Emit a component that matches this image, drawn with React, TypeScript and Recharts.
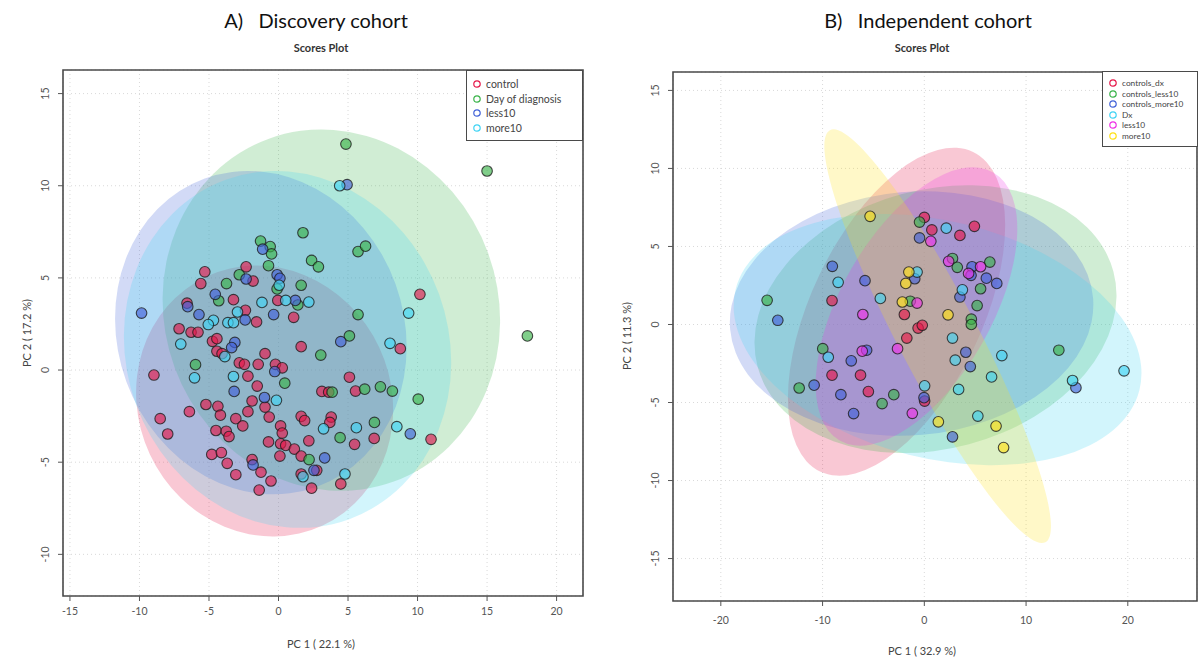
import React from "react";
import { ScatterChart, Scatter, XAxis, YAxis, CartesianGrid, ReferenceArea } from "recharts";

type Pt = [number, number];
// ellipse: centre x, centre y, half width (x units), half height (y units), tilt in degrees
type Ell = [number, number, number, number, number];

const FONT = "Lato, 'Liberation Sans', sans-serif";

// palette used by the scores plots (group order)
const groupColors = ["#e6194b", "#3cb44b", "#4363d8", "#42d4f4", "#f032e6", "#ffe119"];

// ---------------- A) Discovery cohort ----------------
const discGroups = ["control", "Day of diagnosis", "less10", "more10"];

const discControl: Pt[] = [
  [-5.3, 5.33], [-5.59, 4.69], [-2.33, 5.6], [-1.83, 4.83], [-3.24, 3.82], [-6.58, 3.63],
  [-2.38, 3.24], [-1.58, 2.61], [-0.05, 3.78], [1.09, 2.86], [1.63, 1.27], [10.17, 4.11],
  [8.76, 1.16], [-7.15, 2.24], [-6.29, 2.05], [-5.79, 2.05], [-4.75, 1.56], [-4.43, 1.7],
  [-4.43, 1.02], [-4.06, 0.89], [-2.82, 0.39], [-2.45, 0.31], [-2.2, -0.33], [-1.46, 0.31],
  [-0.97, 0.89], [-0.22, 0.31], [0.27, 0.12], [-8.96, -0.27], [-1.53, -0.87], [-1.9, -1.68],
  [-0.97, -2.01], [-0.67, -2.55], [-2.2, -2.26], [-5.22, -1.87], [-4.36, -1.97], [-4.18, -2.45],
  [-6.41, -2.26], [-8.51, -2.64], [-7.97, -3.47], [-4.5, -3.28], [-3.76, -3.32], [-3.56, -3.61],
  [-3.07, -2.64], [-2.57, -3.03], [0.15, -3.03], [0.27, -3.42], [-0.72, -3.9], [0.15, -4.0],
  [0.52, -4.09], [1.63, -2.51], [1.88, -2.74], [2.18, -3.84], [1.14, -4.29], [1.63, -4.67],
  [0.1, -4.67], [1.63, -5.64], [2.38, -6.41], [2.75, -5.44], [-4.8, -4.58], [-4.11, -4.48],
  [-3.69, -5.06], [-3.07, -5.68], [-1.9, -4.86], [-1.26, -5.54], [-1.39, -6.51], [-0.54, -6.02],
  [3.79, -2.55], [3.69, -2.84], [3.12, -1.16], [3.61, -1.2], [5.1, -0.39], [5.54, -1.14],
  [6.88, -3.71], [5.47, -4.03], [4.48, -6.18], [10.97, -3.76],
];

const discDayOfDiagnosis: Pt[] = [
  [4.85, 12.26], [15.0, 10.8], [17.9, 1.85], [-1.29, 7.0], [-0.6, 6.7], [-0.5, 6.3],
  [1.76, 7.45], [2.38, 5.95], [2.87, 5.6], [5.72, 6.43], [6.26, 6.72], [-0.72, 5.66],
  [-2.82, 5.17], [-3.74, 4.69], [-4.3, 3.76], [1.63, 4.6], [-0.1, 4.4], [1.39, 3.53],
  [5.72, 3.01], [5.1, 1.85], [3.04, 0.81], [-5.97, 0.29], [0.45, -0.71], [3.86, -1.2],
  [6.2, -1.04], [7.33, -0.91], [8.19, -1.14], [10.05, -1.58], [6.9, -2.84], [4.43, -3.67],
  [2.2, -4.86],
];

const discLess10: Pt[] = [
  [4.93, 10.06], [-9.85, 3.09], [-1.14, 6.56], [-0.1, 5.17], [0.1, 4.98], [-2.33, 4.94],
  [-4.55, 4.11], [-6.53, 3.44], [-5.72, 3.01], [-2.4, 2.72], [-0.35, 3.01], [1.21, 3.78],
  [-3.14, 1.5], [-3.37, 1.22], [-0.27, -0.08], [-3.19, -1.16], [-1.01, -1.49], [4.48, 1.54],
  [9.48, -3.46], [3.32, -4.77], [-1.83, -5.15], [2.55, -5.44],
];

const discMore10: Pt[] = [
  [4.4, 10.0], [9.36, 3.09], [8.02, 1.45], [-7.03, 1.41], [-6.04, -0.42], [-3.24, -0.35],
  [-1.19, 3.67], [0.52, 3.78], [2.18, 3.69], [0.05, 4.6], [-3.64, 2.57], [-3.24, 2.57],
  [-2.95, 3.15], [-4.68, 2.7], [-5.05, 2.47], [-0.15, -1.64], [5.6, -3.13], [3.24, -3.19],
  [8.51, -3.07], [4.78, -5.64], [1.76, -5.79], [-3.86, 0.73],
];

const discEllipses: Ell[] = [
  [-1.0, -1.68, 9.1, 7.45, -25],
  [3.8, 3.25, 12.0, 9.9, -20],
  [-1.27, 2.03, 10.3, 8.9, -20],
  [0.65, 1.12, 11.6, 9.8, -20],
];

const discXTicks = [-15, -10, -5, 0, 5, 10, 15, 20];
const discYTicks = [-10, -5, 0, 5, 10, 15];

// ---------------- B) Independent cohort ----------------
const indepGroups = ["controls_dx", "controls_less10", "controls_more10", "Dx", "less10", "more10"];

const indepControlsDx: Pt[] = [
  [-9.07, 1.53], [-9.07, -3.25], [-6.27, -3.25], [-5.5, -4.3], [0, 6.86], [0.74, 6.06],
  [3.5, 5.71], [4.92, 6.29], [-1.96, 0.64], [-0.61, -0.23], [-0.2, -0.05], [-1.72, -0.87],
  [0.03, -4.91],
];

const indepControlsLess10: Pt[] = [
  [-15.45, 1.55], [-9.98, -1.55], [-12.3, -4.07], [-4.15, -5.07], [-3.0, -4.5], [-0.47, 6.56],
  [2.77, 4.23], [3.24, 3.66], [6.44, 4.0], [5.53, 2.29], [5.19, 1.21], [4.62, 0.34],
  [4.62, 0.0], [-1.38, 1.49], [13.22, -1.65],
];

const indepControlsMore10: Pt[] = [
  [-14.4, 0.27], [-9.04, 3.73], [-5.83, 2.81], [-7.18, -2.33], [-5.67, -1.65], [-10.83, -3.89],
  [-8.2, -4.5], [-6.95, -5.71], [-0.47, 5.55], [4.69, 3.7], [4.59, 3.15], [6.1, 2.97],
  [7.12, 2.63], [3.5, 1.76], [-0.94, 2.93], [4.08, -1.78], [4.52, -2.7], [-0.03, -4.69],
  [2.77, -7.2], [14.9, -4.05],
];

const indepDx: Pt[] = [
  [-8.47, 2.7], [-4.32, 1.67], [-9.44, -2.1], [2.16, 6.17], [3.74, 2.22], [-0.71, 3.36],
  [2.77, -0.87], [3.04, -2.29], [7.62, -1.99], [6.61, -3.36], [3.37, -4.16], [0.03, -3.93],
  [5.26, -5.87], [14.57, -3.59], [19.63, -2.97],
];

const indepLess10: Pt[] = [
  [-6.04, 0.64], [-6.1, -1.71], [-2.63, -1.55], [-1.18, -5.69], [0.64, 5.33], [2.39, 4.05],
  [5.53, 3.7], [4.35, 3.27], [-0.71, 1.37],
];

const indepMore10: Pt[] = [
  [-5.33, 6.93], [-1.52, 3.36], [-1.82, 2.63], [-2.16, 1.44], [2.33, 0.62], [1.38, -6.24],
  [7.05, -6.51], [7.79, -7.89],
];

const indepEllipses: Ell[] = [
  [-2.73, 0.82, 8.4, 11.35, 25.6],
  [1.1, 0.34, 18.1, 8.3, -15],
  [-1.25, 0.7, 17.9, 7.8, -5],
  [1.3, -0.97, 20.45, 7.6, 14],
  [-0.77, 1.15, 7.4, 9.9, 29.8],
  [1.31, -0.75, 3.9, 14.9, -27.6],
];

const indepXTicks = [-20, -10, 0, 10, 20];
const indepYTicks = [-15, -10, -5, 0, 5, 10, 15];

// ---------------- drawing helpers ----------------
const toRows = (pts: Pt[]) => pts.map(([x, y]) => ({ x, y }));

const pointShape = (color: string) => (p: any) => (
  <circle
    cx={p.cx}
    cy={p.cy}
    r={5.3}
    fill={color}
    fillOpacity={0.65}
    stroke="#1e1e1e"
    strokeOpacity={0.8}
    strokeWidth={1.1}
  />
);

const ellipseShape = (color: string, kx: number, ky: number) => (p: any) => {
  const e = p.payload;
  return (
    <ellipse
      cx={p.cx}
      cy={p.cy}
      rx={e.rx * kx}
      ry={e.ry * ky}
      transform={`rotate(${e.tilt} ${p.cx} ${p.cy})`}
      fill={color}
      fillOpacity={0.24}
      stroke="none"
    />
  );
};

const RotatedTick = (props: any) => {
  const { x, y, payload } = props;
  return (
    <text
      x={x}
      y={y}
      transform={`rotate(-90 ${x} ${y})`}
      textAnchor="middle"
      fill="#555"
      fontSize={10.5}
      fontFamily={FONT}
    >
      {payload.value}
    </text>
  );
};

interface PanelProps {
  left: number;
  width: number;
  height: number;
  margin: { top: number; right: number; bottom: number; left: number };
  yAxisWidth: number;
  xAxisHeight: number;
  xDomain: [number, number];
  yDomain: [number, number];
  xTicks: number[];
  yTicks: number[];
  series: Pt[][];
  ellipses: Ell[];
  xTickMargin: number;
}

function ScoresPanel(props: PanelProps) {
  const { left, width, height, margin, yAxisWidth, xAxisHeight, xDomain, yDomain, xTicks, yTicks, series, ellipses } = props;
  const plotW = width - margin.left - margin.right - yAxisWidth;
  const plotH = height - margin.top - margin.bottom - xAxisHeight;
  const kx = plotW / (xDomain[1] - xDomain[0]);
  const ky = plotH / (yDomain[1] - yDomain[0]);

  return (
    <div style={{ position: "absolute", left, top: 0 }}>
      <ScatterChart width={width} height={height} margin={margin}>
        <CartesianGrid stroke="#d9d9d9" strokeDasharray="1 3" />
        <XAxis
          type="number"
          dataKey="x"
          domain={xDomain}
          ticks={xTicks}
          allowDataOverflow
          height={xAxisHeight}
          axisLine={false}
          tickSize={5}
          tickMargin={props.xTickMargin}
          tickLine={{ stroke: "#555" }}
          tick={{ fill: "#555", fontSize: 10.5, fontFamily: FONT }}
        />
        <YAxis
          type="number"
          dataKey="y"
          domain={yDomain}
          ticks={yTicks}
          allowDataOverflow
          width={yAxisWidth}
          axisLine={false}
          tickSize={5}
          tickMargin={9}
          tickLine={{ stroke: "#555" }}
          tick={(p: any) => <RotatedTick {...p} />}
        />
        {ellipses.map(([cx, cy, rx, ry, tilt], i) => (
          <Scatter
            key={`e${i}`}
            data={[{ x: cx, y: cy, rx, ry, tilt }]}
            shape={ellipseShape(groupColors[i], kx, ky)}
            isAnimationActive={false}
          />
        ))}
        {series.map((pts, i) => (
          <Scatter
            key={`s${i}`}
            data={toRows(pts)}
            shape={pointShape(groupColors[i])}
            isAnimationActive={false}
          />
        ))}
        <ReferenceArea
          x1={xDomain[0]}
          x2={xDomain[1]}
          y1={yDomain[0]}
          y2={yDomain[1]}
          fill="none"
          stroke="#4a4a4a"
          strokeWidth={1.6}
          ifOverflow="visible"
        />
      </ScatterChart>
    </div>
  );
}

function LegendBox({ left, top, width, rowH, fontSize, names }: { left: number; top: number; width: number; rowH: number; fontSize: number; names: string[] }) {
  return (
    <div
      style={{
        position: "absolute",
        left,
        top,
        width,
        border: "1.5px solid #4a4a4a",
        background: "#fff",
        padding: "6px 0 5px 0",
        fontFamily: FONT,
        fontSize,
        color: "#444",
        boxSizing: "border-box",
      }}
    >
      {names.map((n, i) => (
        <div key={n} style={{ display: "flex", alignItems: "center", height: rowH, paddingLeft: 5 }}>
          <svg width={10} height={10} style={{ marginRight: 4 }}>
            <circle cx={5} cy={5} r={3.2} fill="none" stroke={groupColors[i]} strokeWidth={1.2} />
          </svg>
          <span style={{ whiteSpace: "nowrap" }}>{n}</span>
        </div>
      ))}
    </div>
  );
}

const textAt = (x: number, y: number, style: React.CSSProperties, text: string, rotate = false) => (
  <div
    style={{
      position: "absolute",
      left: x,
      top: y,
      transform: `translate(-50%, -50%)${rotate ? " rotate(-90deg)" : ""}`,
      whiteSpace: "pre",
      fontFamily: FONT,
      ...style,
    }}
  >
    {text}
  </div>
);

export default function App() {
  return (
    <div style={{ position: "absolute", left: 0, top: 0, width: 1202, height: 660, background: "#fff", overflow: "hidden" }}>
      <ScoresPanel
        left={0}
        width={600}
        height={660}
        margin={{ top: 70, right: 17, bottom: 0, left: 0 }}
        yAxisWidth={63}
        xAxisHeight={64}
        xDomain={[-15.5, 21.9]}
        yDomain={[-12.26, 16.28]}
        xTicks={discXTicks}
        yTicks={discYTicks}
        series={[discControl, discDayOfDiagnosis, discLess10, discMore10]}
        ellipses={discEllipses}
        xTickMargin={7}
      />
      <ScoresPanel
        left={600}
        width={602}
        height={660}
        margin={{ top: 72, right: 5, bottom: 0, left: 0 }}
        yAxisWidth={73}
        xAxisHeight={59}
        xDomain={[-24.7, 26.8]}
        yDomain={[-17.72, 16.18]}
        xTicks={indepXTicks}
        yTicks={indepYTicks}
        series={[indepControlsDx, indepControlsLess10, indepControlsMore10, indepDx, indepLess10, indepMore10]}
        ellipses={indepEllipses}
        xTickMargin={11}
      />

      <LegendBox left={466} top={70} width={117} rowH={14.5} fontSize={10.5} names={discGroups} />
      <LegendBox left={1102} top={71} width={96} rowH={10.5} fontSize={8.3} names={indepGroups} />

      {textAt(316, 20, { fontSize: 20, color: "#111" }, "A)   Discovery cohort")}
      {textAt(928, 20, { fontSize: 20, color: "#111" }, "B)   Independent cohort")}
      {textAt(321, 47, { fontSize: 11, fontWeight: 700, color: "#333" }, "Scores Plot")}
      {textAt(922, 47, { fontSize: 11, fontWeight: 700, color: "#333" }, "Scores Plot")}
      {textAt(321, 643, { fontSize: 11, color: "#444" }, "PC 1 ( 22.1 %)")}
      {textAt(922, 650, { fontSize: 11, color: "#444" }, "PC 1 ( 32.9 %)")}
      {textAt(26, 333, { fontSize: 11, color: "#444" }, "PC 2 ( 17.2 %)", true)}
      {textAt(626, 336, { fontSize: 11, color: "#444" }, "PC 2 ( 11.3 %)", true)}
    </div>
  );
}
